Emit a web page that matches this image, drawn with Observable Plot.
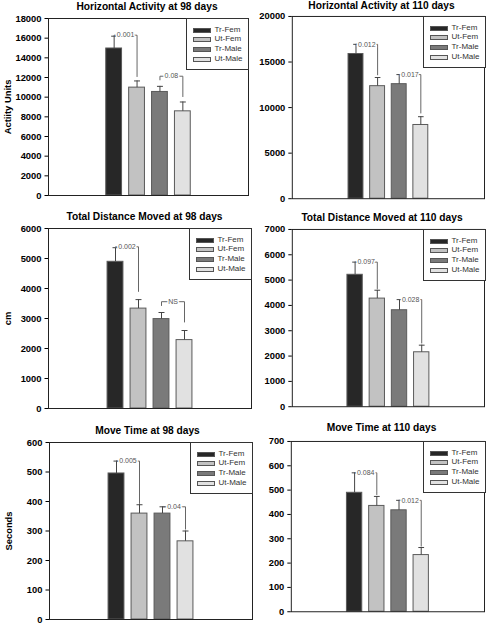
<!DOCTYPE html>
<html><head><meta charset="utf-8">
<script src="https://cdn.jsdelivr.net/npm/d3@7"></script>
<script src="https://cdn.jsdelivr.net/npm/@observablehq/plot@0.6"></script>
<style>
body{margin:0;background:#fff;}
#page{position:relative;width:488px;height:625px;overflow:hidden;font-family:"Liberation Sans",Arial,sans-serif;background:#fff;}
.title{position:absolute;width:240px;text-align:center;font-weight:bold;font-size:10.2px;line-height:10px;color:#000;white-space:nowrap;}
.legend{position:absolute;border:1px solid #333;background:#fff;box-sizing:border-box;}
.sw{position:absolute;width:18px;height:5px;box-sizing:border-box;border:1px solid #555;}
.lt{position:absolute;font-size:8px;line-height:8px;color:#333;white-space:nowrap;}
.panel{position:absolute;}
</style></head><body><div id="page"></div>
<script>
// ---- data ----
const groups = ["Tr-Fem", "Ut-Fem", "Tr-Male", "Ut-Male"];
const groupColors = ["#272727", "#c2c2c2", "#7a7a7a", "#e1e1e1"];

const horiz98Mean = [14950, 10970, 10530, 8560];
const horiz98Sem = [1250, 680, 570, 950];
const horiz98Ticks = [0, 2000, 4000, 6000, 8000, 10000, 12000, 14000, 16000, 18000];
const horiz98Sig = [
  {from: "Tr-Fem", to: "Ut-Fem", label: "0.001", y: 16300, yFrom: 16200, yTo: 12060},
  {from: "Tr-Male", to: "Ut-Male", label: "0.08", y: 12130, yFrom: 11720, yTo: 10020}
];

const horiz110Mean = [15880, 12350, 12570, 8090];
const horiz110Sem = [1060, 950, 1050, 910];
const horiz110Ticks = [0, 5000, 10000, 15000, 20000];
const horiz110Sig = [
  {from: "Tr-Fem", to: "Ut-Fem", label: "0.012", y: 16940, yFrom: 16940, yTo: 13550},
  {from: "Tr-Male", to: "Ut-Male", label: "0.017", y: 13620, yFrom: 13620, yTo: 9360}
];

const dist98Mean = [4890, 3330, 2980, 2280];
const dist98Sem = [470, 300, 220, 320];
const dist98Ticks = [0, 1000, 2000, 3000, 4000, 5000, 6000];
const dist98Sig = [
  {from: "Tr-Fem", to: "Ut-Fem", label: "0.002", y: 5390, yFrom: 5360, yTo: 3890},
  {from: "Tr-Male", to: "Ut-Male", label: "NS", y: 3560, yFrom: 3420, yTo: 2870}
];

const dist110Mean = [5210, 4270, 3810, 2150];
const dist110Sem = [500, 330, 420, 280];
const dist110Ticks = [0, 1000, 2000, 3000, 4000, 5000, 6000, 7000];
const dist110Sig = [
  {from: "Tr-Fem", to: "Ut-Fem", label: "0.097", y: 5710, yFrom: 5710, yTo: 4650},
  {from: "Tr-Male", to: "Ut-Male", label: "0.028", y: 4230, yFrom: 4230, yTo: 2500}
];

const time98Mean = [495, 359, 359, 265];
const time98Sem = [42, 30, 23, 35];
const time98Ticks = [0, 100, 200, 300, 400, 500, 600];
const time98Sig = [
  {from: "Tr-Fem", to: "Ut-Fem", label: "0.005", y: 537, yFrom: 537, yTo: 392},
  {from: "Tr-Male", to: "Ut-Male", label: "0.04", y: 382, yFrom: 382, yTo: 305}
];

const time110Mean = [489, 435, 417, 233];
const time110Sem = [82, 39, 41, 31];
const time110Ticks = [0, 100, 200, 300, 400, 500, 600, 700];
const time110Sig = [
  {from: "Tr-Fem", to: "Ut-Fem", label: "0.084", y: 571, yFrom: 571, yTo: 480},
  {from: "Tr-Male", to: "Ut-Male", label: "0.012", y: 458, yFrom: 458, yTo: 268}
];

// ---- layout ----
const panels = [
  {title: "Horizontal Activity at 98 days", ylabel: "Actiity Units", mean: horiz98Mean, sem: horiz98Sem, ticks: horiz98Ticks, sig: horiz98Sig,
   frame: {l: 48, r: 248, t: 18, b: 195}, step: 22.9, titleX: 147, titleBase: 10},
  {title: "Horizontal Activity at 110 days", ylabel: null, mean: horiz110Mean, sem: horiz110Sem, ticks: horiz110Ticks, sig: horiz110Sig,
   frame: {l: 292, r: 485, t: 16, b: 199}, step: 21.7, titleX: 381.5, titleBase: 9},
  {title: "Total Distance Moved at 98 days", ylabel: "cm", mean: dist98Mean, sem: dist98Sem, ticks: dist98Ticks, sig: dist98Sig,
   frame: {l: 48, r: 251, t: 228, b: 408}, step: 23, titleX: 144.5, titleBase: 220},
  {title: "Total Distance Moved at 110 days", ylabel: null, mean: dist110Mean, sem: dist110Sem, ticks: dist110Ticks, sig: dist110Sig,
   frame: {l: 292, r: 485, t: 229, b: 407}, step: 22.3, titleX: 382, titleBase: 221},
  {title: "Move Time at 98 days", ylabel: "Seconds", mean: time98Mean, sem: time98Sem, ticks: time98Ticks, sig: time98Sig,
   frame: {l: 49, r: 252, t: 442, b: 619}, step: 23, titleX: 147.5, titleBase: 434},
  {title: "Move Time at 110 days", ylabel: null, mean: time110Mean, sem: time110Sem, ticks: time110Ticks, sig: time110Sig,
   frame: {l: 291, r: 485, t: 441, b: 612}, step: 22.3, titleX: 381.5, titleBase: 431}
];

const page = document.getElementById("page");
const BW = 0.345, CAP = 0.13;
const FONT = "'Liberation Sans', Arial, sans-serif";

for (const p of panels) {
  const f = p.frame;
  const svgLeft = f.l < 244 ? 0 : 244;
  const mTop = 10, mRight = 4, mBottom = 4;
  const svgTop = f.t - mTop;
  const width = f.r - svgLeft + mRight;
  const height = f.b - svgTop + mBottom;
  const half = (f.r - f.l) / (2 * p.step);
  const rows = groups.map((g, i) => ({g, i, mean: p.mean[i], top: p.mean[i] + p.sem[i]}));
  const segs = [];
  const labels = [];
  for (const s of p.sig) {
    const a = groups.indexOf(s.from), b = groups.indexOf(s.to);
    segs.push({x1: a, x2: b, y1: s.y, y2: s.y});
    if (s.yFrom !== s.y) segs.push({x1: a, x2: a, y1: s.y, y2: s.yFrom});
    segs.push({x1: b, x2: b, y1: s.y, y2: s.yTo});
    labels.push({x: (a + b) / 2, y: s.y, label: s.label});
  }
  const chart = Plot.plot({
    width, height,
    marginLeft: f.l - svgLeft, marginRight: mRight, marginTop: mTop, marginBottom: mBottom,
    x: {domain: [1.5 - half, 1.5 + half], axis: null},
    y: {domain: [0, p.ticks[p.ticks.length - 1]]},
    color: {domain: groups, range: groupColors},
    style: {fontFamily: FONT, fontSize: "9.4px", fontWeight: "bold", background: "transparent", color: "#000", overflow: "visible"},
    marks: [
      Plot.rectY(rows, {x1: d => d.i - BW, x2: d => d.i + BW, y: "mean", fill: "g", stroke: "#5a5a5a", strokeWidth: 1}),
      Plot.ruleX(rows, {x: "i", y1: "mean", y2: "top", stroke: "#444"}),
      Plot.link(rows, {x1: d => d.i - CAP, x2: d => d.i + CAP, y1: "top", y2: "top", stroke: "#444"}),
      Plot.link(segs, {x1: "x1", x2: "x2", y1: "y1", y2: "y2", stroke: "#666"}),
      Plot.text(labels, {x: "x", y: "y", text: "label", fill: "#555", stroke: "white", strokeWidth: 3, fontSize: 7, fontWeight: "normal", fontFamily: FONT}),
      Plot.frame({stroke: "#222"}),
      Plot.axisY({ticks: p.ticks, tickFormat: d => String(d), tickSize: 3.5, tickPadding: 3.5,
        fontWeight: "bold", fontSize: 9.4, fontFamily: FONT, fill: "#000",
        label: p.ylabel, labelAnchor: "center", labelOffset: 44, labelArrow: false})
    ]
  });
  const holder = document.createElement("div");
  holder.className = "panel";
  holder.style.left = svgLeft + "px";
  holder.style.top = svgTop + "px";
  holder.appendChild(chart);
  page.appendChild(holder);

  // title
  const t = document.createElement("div");
  t.className = "title";
  t.textContent = p.title;
  t.style.left = (p.titleX - 120) + "px";
  t.style.top = (p.titleBase - 8.5) + "px";
  page.appendChild(t);

  // legend
  const lw = 63, lh = 52;
  const lg = document.createElement("div");
  lg.className = "legend";
  lg.style.left = (f.r - lw + 0.5) + "px";
  lg.style.top = (f.t - 0.5) + "px";
  lg.style.width = lw + "px";
  lg.style.height = lh + "px";
  groups.forEach((g, i) => {
    const cy = 11.5 + i * 9.9;
    const sw = document.createElement("div");
    sw.className = "sw";
    sw.style.left = "6px";
    sw.style.top = (cy - 2.5) + "px";
    sw.style.background = groupColors[i];
    lg.appendChild(sw);
    const tx = document.createElement("div");
    tx.className = "lt";
    tx.textContent = g;
    tx.style.left = "28px";
    tx.style.top = (cy - 4.5) + "px";
    lg.appendChild(tx);
  });
  page.appendChild(lg);
}
</script></body></html>
